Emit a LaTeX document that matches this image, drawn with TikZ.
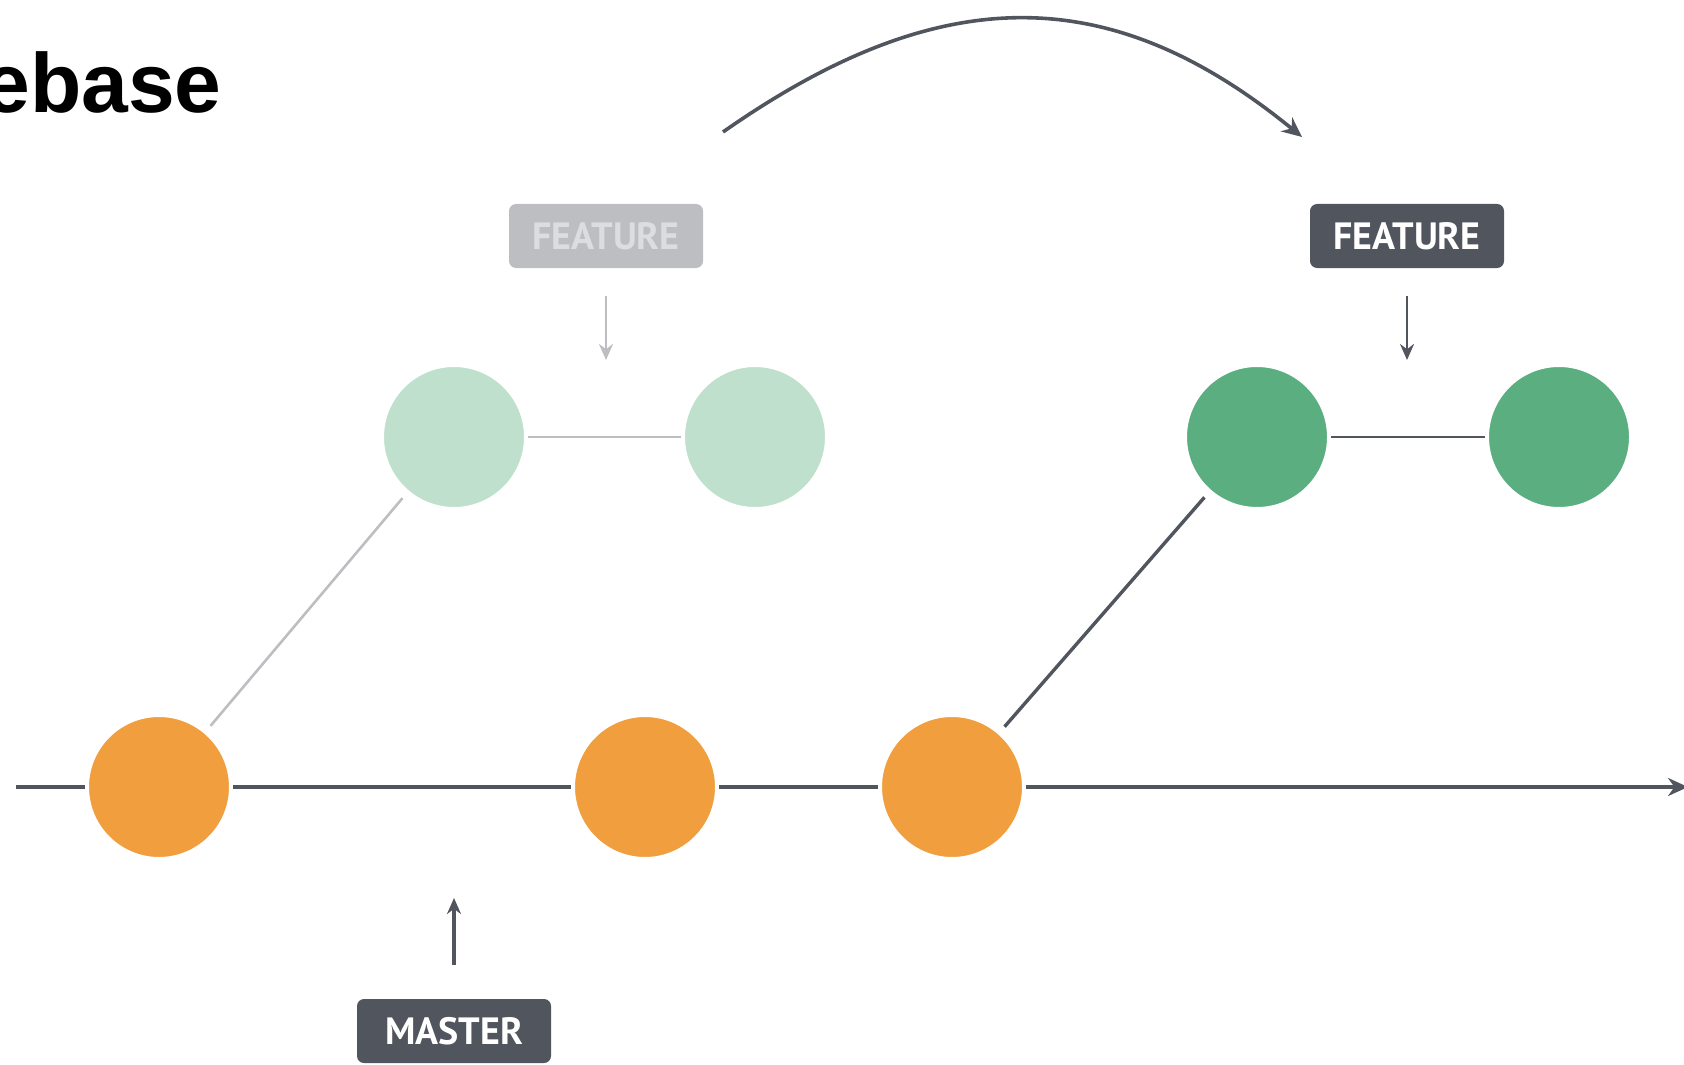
\documentclass[tikz,border=0pt]{standalone}
\usepackage{fontspec}
\setmainfont{Liberation Sans}
\newfontfamily\tagfont{PT Sans}
\usetikzlibrary{arrows.meta}

\definecolor{slate}{HTML}{50555E}
\definecolor{ghost}{HTML}{BDBEC1}
\definecolor{ghosttext}{HTML}{DCDDDF}
\definecolor{mastercol}{HTML}{F09E3E}
\definecolor{featcol}{HTML}{5BAE7F}
\definecolor{oldcol}{HTML}{BFE0CD}

\tikzset{
    commit/.style={circle, minimum size=72pt, inner sep=0pt, draw=white, line width=2pt},
    tagbox/.style={rounded corners=3.5pt, minimum width=97pt, minimum height=32pt, inner sep=0pt,
        font=\tagfont\bfseries\fontsize{19}{19}\selectfont},
    tagarrow/.style={line width=1.3pt, -{Stealth[length=8pt, width=7pt]}},
}

\begin{document}
\begin{tikzpicture}[x=0.5pt, y=-0.5pt]
    \useasboundingbox (0, 0) rectangle (1684, 1064);

    \node[anchor=base east, inner sep=0pt, font=\bfseries\fontsize{42}{42}\selectfont] (title) at (222, 113) {ebase};

    % master line
    \coordinate (start) at (16, 787);
    \coordinate (end) at (1688, 787);
    \node[commit, fill=mastercol] (m1) at (159, 787) {};
    \node[commit, fill=mastercol] (m2) at (645, 787) {};
    \node[commit, fill=mastercol] (m3) at (952, 787) {};
    \draw[slate, line width=2pt, -{Stealth[length=10pt, width=9pt]}] (start) -- (m1) -- (m2) -- (m3) -- (end);

    % old feature commits
    \node[commit, fill=oldcol] (old1) at (454, 437) {};
    \node[commit, fill=oldcol] (old2) at (755, 437) {};
    \draw[ghost, line width=1.3pt, shorten <=3pt, shorten >=3pt] (m1) -- (old1);
    \draw[ghost, line width=1.1pt] (old1) -- (old2);

    % rebased feature commits
    \node[commit, fill=featcol] (new1) at (1257, 437) {};
    \node[commit, fill=featcol] (new2) at (1559, 437) {};
    \draw[slate, line width=1.7pt, shorten <=3pt, shorten >=3pt] (m3) -- (new1);
    \draw[slate, line width=1.2pt] (new1) -- (new2);

    % branch labels
    \node[tagbox, fill=ghost, text=ghosttext] (oldtag) at (606, 236) {FEATURE};
    \node[tagbox, fill=slate, text=white] (newtag) at (1407, 236) {FEATURE};
    \node[tagbox, fill=slate, text=white] (mastertag) at (454, 1031) {MASTER};

    \coordinate (oldtip) at (606, 360);
    \coordinate (newtip) at (1407, 360);
    \coordinate (mastertip) at (454, 898);
    \draw[tagarrow, ghost, shorten <=14pt] (oldtag.south) -- (oldtip);
    \draw[tagarrow, slate, shorten <=14pt] (newtag.south) -- (newtip);
    \draw[tagarrow, slate, line width=1.8pt, shorten <=17pt] (mastertag.north) -- (mastertip);

    % the move
    \coordinate (movefrom) at (723, 132);
    \coordinate (moveto) at (1302, 137);
    \draw[slate, line width=1.8pt, -{Stealth[length=10pt, width=9pt]}] (movefrom) .. controls (940, -20) and (1110, -20) .. (moveto);
\end{tikzpicture}
\end{document}
